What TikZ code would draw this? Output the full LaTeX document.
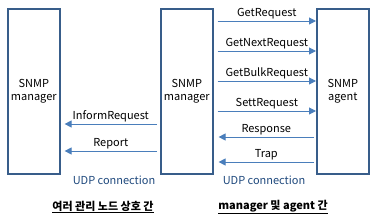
\documentclass[tikz,border=0pt]{standalone}
\usepackage{fontspec}
\setmainfont{Noto Sans CJK KR}
\usetikzlibrary{arrows.meta,positioning}
\definecolor{boxline}{HTML}{385D8A}
\definecolor{arrowline}{HTML}{4A7EBB}
\definecolor{udptext}{HTML}{1F497D}

\begin{document}
\begin{tikzpicture}[
      x=1pt, y=-1pt,
      >={Triangle[length=7pt, width=7pt]},
      font=\fontsize{11}{12.5}\selectfont,
      box/.style={draw=boxline, line width=1.6pt, minimum width=52pt,
      minimum height=165pt, inner sep=1pt, align=center},
      msg/.style={->, arrowline, line width=1pt},
      lbl/.style={above=0.5pt, inner sep=1pt, text=black},
      udp/.style={text=udptext},
      caption/.style={font=\fontsize{11}{12.5}\selectfont\bfseries}
    ]
    \useasboundingbox (0,0) rectangle (376,220);

    \node[box, anchor=north west] (peer) at (7,8) {SNMP\\manager};
    \node[box, anchor=north west] (manager) at (160,8) {SNMP\\manager};
    \node[box, anchor=north west] (agent) at (316,8) {SNMP\\agent};

    % requests from manager to agent
    \coordinate (m1) at (manager.east |- 0,21);
    \coordinate (m2) at (manager.east |- 0,51);
    \coordinate (m3) at (manager.east |- 0,81);
    \coordinate (m4) at (manager.east |- 0,111);
    \coordinate (m5) at (manager.east |- 0,137);
    \coordinate (m6) at (manager.east |- 0,162);
    \draw[msg] ([xshift=4pt]m1) -- (agent.west |- m1)
      node[lbl, midway] {GetRequest};
    \draw[msg] ([xshift=4pt]m2) -- (agent.west |- m2)
      node[lbl, midway] {GetNextRequest};
    \draw[msg] ([xshift=4pt]m3) -- (agent.west |- m3)
      node[lbl, midway] {GetBulkRequest};
    \draw[msg] ([xshift=4pt]m4) -- (agent.west |- m4)
      node[lbl, midway] {SettRequest};
    \draw[msg] ([xshift=-2pt]agent.west |- m5) -- ([xshift=5pt]m5)
      node[lbl, midway] {Response};
    \draw[msg] ([xshift=-2pt]agent.west |- m6) -- ([xshift=5pt]m6)
      node[lbl, midway] {Trap};

    % notifications between managers
    \coordinate (p1) at (manager.west |- 0,124);
    \coordinate (p2) at (manager.west |- 0,151);
    \draw[msg] ([xshift=-3pt]p1) -- ([xshift=4pt]peer.east |- p1)
      node[lbl, midway] {InformRequest};
    \draw[msg] ([xshift=-3pt]p2) -- ([xshift=4pt]peer.east |- p2)
      node[lbl, midway] {Report};

    \node[udp] (udpleft) at (114,180) {UDP connection};
    \node[udp] (udpright) at (264,180) {UDP connection};
    \node[caption] (capleft) at (103,207) {\underline{여러 관리 노드 상호 간}};
    \node[caption] (capright) at (273,207) {\underline{manager 및 agent 간}};
  \end{tikzpicture}
\end{document}
